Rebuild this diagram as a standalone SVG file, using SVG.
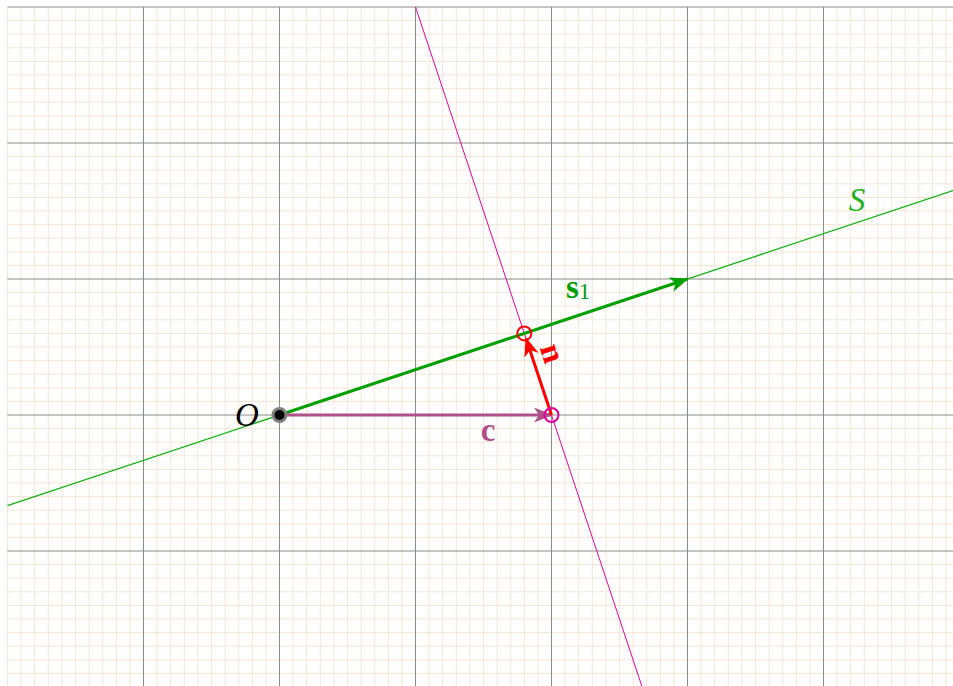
<svg xmlns="http://www.w3.org/2000/svg" width="953" height="686" viewBox="0 0 953 686">
<style>
.minor{stroke:#f5e5d2;stroke-width:1;fill:none}
.major{stroke:#8a8a8a;stroke-width:1;fill:none}
.lbl{font-family:"Liberation Serif","DejaVu Serif",serif;font-size:33px}
</style>
<defs>
<marker id="ahG" markerUnits="userSpaceOnUse" markerWidth="20" markerHeight="20" refX="0" refY="0" orient="auto" overflow="visible" viewBox="-15 -7 16 14"><path d="M1,0 L-14,-6 L-10,0 L-14,6 Z" fill="#00a000"/></marker>
<marker id="ahP" markerUnits="userSpaceOnUse" markerWidth="20" markerHeight="20" refX="0" refY="0" orient="auto" overflow="visible" viewBox="-15 -7 16 14"><path d="M1,0 L-14,-6 L-10,0 L-14,6 Z" fill="#b04f88"/></marker>
<marker id="ahR" markerUnits="userSpaceOnUse" markerWidth="20" markerHeight="20" refX="0" refY="0" orient="auto" overflow="visible" viewBox="-15 -7 16 14"><path d="M1,0 L-14,-6 L-10,0 L-14,6 Z" fill="#ff0000"/></marker>
</defs>
<rect x="0" y="0" width="953" height="686" fill="#ffffff"/>
<g id="grid">
<path class="minor" d="M7.5,7V686M21.1,7V686M34.7,7V686M48.3,7V686M61.9,7V686M75.5,7V686M89.1,7V686M102.7,7V686M116.3,7V686M129.9,7V686M157.1,7V686M170.7,7V686M184.3,7V686M197.9,7V686M211.5,7V686M225.1,7V686M238.7,7V686M252.3,7V686M265.9,7V686M293.1,7V686M306.7,7V686M320.3,7V686M333.9,7V686M347.5,7V686M361.1,7V686M374.7,7V686M388.3,7V686M401.9,7V686M429.1,7V686M442.7,7V686M456.3,7V686M469.9,7V686M483.5,7V686M497.1,7V686M510.7,7V686M524.3,7V686M537.9,7V686M565.1,7V686M578.7,7V686M592.3,7V686M605.9,7V686M619.5,7V686M633.1,7V686M646.7,7V686M660.3,7V686M673.9,7V686M701.1,7V686M714.7,7V686M728.3,7V686M741.9,7V686M755.5,7V686M769.1,7V686M782.7,7V686M796.3,7V686M809.9,7V686M837.1,7V686M850.7,7V686M864.3,7V686M877.9,7V686M891.5,7V686M905.1,7V686M918.7,7V686M932.3,7V686M945.9,7V686"/>
<path class="minor" d="M7.5,20.6H953M7.5,34.2H953M7.5,47.8H953M7.5,61.4H953M7.5,75H953M7.5,88.6H953M7.5,102.2H953M7.5,115.8H953M7.5,129.4H953M7.5,156.6H953M7.5,170.2H953M7.5,183.8H953M7.5,197.4H953M7.5,211H953M7.5,224.6H953M7.5,238.2H953M7.5,251.8H953M7.5,265.4H953M7.5,292.6H953M7.5,306.2H953M7.5,319.8H953M7.5,333.4H953M7.5,347H953M7.5,360.6H953M7.5,374.2H953M7.5,387.8H953M7.5,401.4H953M7.5,428.6H953M7.5,442.2H953M7.5,455.8H953M7.5,469.4H953M7.5,483H953M7.5,496.6H953M7.5,510.2H953M7.5,523.8H953M7.5,537.4H953M7.5,564.6H953M7.5,578.2H953M7.5,591.8H953M7.5,605.4H953M7.5,619H953M7.5,632.6H953M7.5,646.2H953M7.5,659.8H953M7.5,673.4H953"/>
<path class="major" d="M143.5,7V686M279.5,7V686M415.5,7V686M551.5,7V686M687.5,7V686M823.5,7V686M7.5,7H953M7.5,143H953M7.5,279H953M7.5,415H953M7.5,551H953"/>
</g>
<g id="connectors" fill="none">
<line id="lineS" x1="7.5" y1="505.67" x2="953" y2="190.5" stroke="#10b010" stroke-width="1.2"/>
<line id="lineM" x1="415.5" y1="7" x2="641.8" y2="686" stroke="#e0009a" stroke-width="1"/>
<line id="vecS1" x1="279.5" y1="415" x2="687.5" y2="279" stroke="#00a000" stroke-width="3" marker-end="url(#ahG)"/>
<line id="vecC" x1="279.5" y1="415" x2="551.5" y2="415" stroke="#b04f88" stroke-width="3" marker-end="url(#ahP)"/>
<line id="vecN" x1="551.5" y1="415" x2="526" y2="338.5" stroke="#ff0000" stroke-width="3" marker-end="url(#ahR)"/>
</g>
<g id="nodeO">
<circle cx="279.5" cy="415" r="6.5" fill="#000000" stroke="#808080" stroke-width="3"/>
<text class="lbl" x="247" y="426" text-anchor="middle" font-style="italic">O</text>
</g>
<g id="nodeP">
<circle cx="524.3" cy="333.4" r="7" fill="none" stroke="#ff0000" stroke-width="2"/>
</g>
<g id="nodeC">
<circle cx="551.5" cy="415" r="7" fill="none" stroke="#e0009a" stroke-width="2"/>
</g>
<g id="labels">
<text class="lbl" x="488" y="441" text-anchor="middle" font-weight="bold" fill="#b04f88">c</text>
<text class="lbl" x="566" y="298" fill="#00a000" font-weight="bold">s<tspan font-weight="normal" font-size="23" dy="1">1</tspan></text>
<text class="lbl" x="857" y="211" text-anchor="middle" font-style="italic" fill="#22b022">S</text>
<text class="lbl" transform="translate(550,354) rotate(71.6)" x="0" y="8" text-anchor="middle" font-weight="bold" fill="#ff0000">n</text>
</g>
</svg>
